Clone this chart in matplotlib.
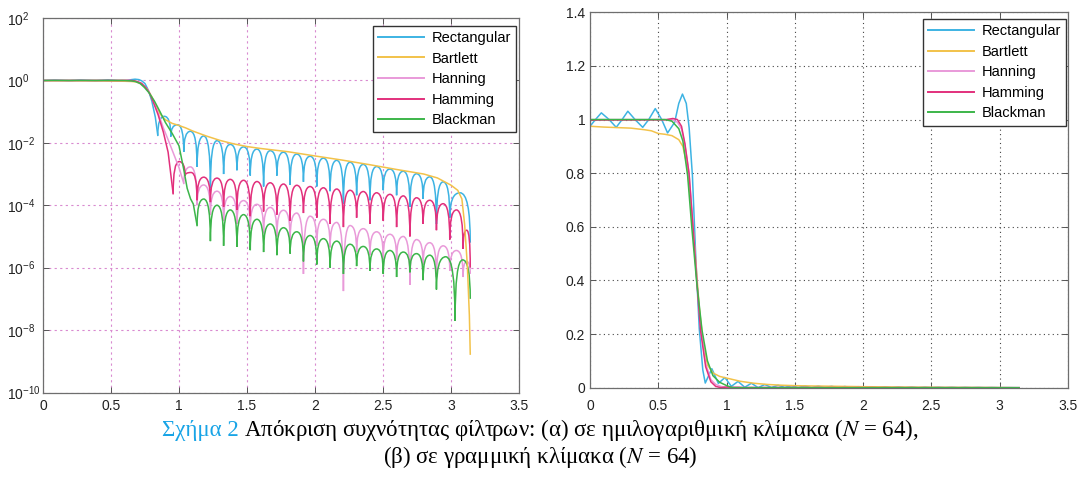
import matplotlib
matplotlib.use("Agg")
import matplotlib.pyplot as plt
import matplotlib.ticker as mticker
from matplotlib.path import Path
from matplotlib.patches import PathPatch
from matplotlib.lines import Line2D

plt.rcParams["font.family"] = ["Liberation Sans", "DejaVu Sans"]
plt.rcParams["mathtext.default"] = "regular"

names = ["Rectangular", "Bartlett", "Hanning", "Hamming", "Blackman"]
colors = ["#3db3e3", "#f2c24a", "#e99ad9", "#e2307c", "#3cb54a"]

# pass band + transition, linear magnitude
rect_x = [0, 0.04, 0.083, 0.14, 0.192, 0.235, 0.277, 0.33, 0.386, 0.43, 0.478,
          0.525, 0.568, 0.62, 0.65, 0.677, 0.705, 0.726, 0.75, 0.775, 0.80, 0.826]
rect_y = [0.975, 1.0, 1.025, 1.0, 0.971, 1.0, 1.031, 1.0, 0.971, 1.0, 1.041,
          1.0, 0.95, 0.99, 1.06, 1.095, 1.06, 0.969, 0.79, 0.48, 0.22, 0.066]

hann_x = [0, 0.55, 0.6, 0.64, 0.67, 0.695, 0.725, 0.758, 0.783, 0.809, 0.847,
          0.885, 0.92, 0.96, 1.0]
hann_y = [1.0, 1.0, 1.0, 0.99, 0.965, 0.905, 0.8, 0.58, 0.4, 0.23, 0.09,
          0.03, 0.0126, 0.0045, 0.0016]

hamm_x = [0, 0.55, 0.607, 0.64, 0.67, 0.695, 0.725, 0.758, 0.783, 0.809, 0.847,
          0.885, 0.92]
hamm_y = [0.998, 0.999, 1.004, 1.0, 0.975, 0.91, 0.80, 0.575, 0.39, 0.215, 0.078,
          0.022, 0.005]

black_x = [0, 0.55, 0.6, 0.65, 0.68, 0.715, 0.745, 0.78, 0.82, 0.86, 0.9, 0.95,
           1.0, 1.035, 1.06, 1.085, 1.105]
black_y = [1.0, 1.0, 0.994, 0.966, 0.92, 0.79, 0.6, 0.4, 0.215, 0.1, 0.045, 0.02,
           0.008, 1.4e-3, 3.5e-4, 1.6e-4, 1.1e-4]

# Bartlett has no nulls, the whole curve is one list
bart_x = [0, 0.1, 0.2, 0.3, 0.4, 0.45, 0.5, 0.55, 0.6, 0.65, 0.68, 0.71, 0.74,
          0.77, 0.80, 0.83, 0.86, 0.90, 0.95, 1.0, 1.05, 1.1, 1.2, 1.3, 1.4, 1.5,
          1.6, 1.8, 2.0, 2.2, 2.4, 2.6, 2.8, 2.9, 3.0, 3.05, 3.08, 3.1, 3.12,
          3.135, 3.1416]
bart_y = [0.975, 0.972, 0.97, 0.968, 0.962, 0.958, 0.948, 0.945, 0.94, 0.925,
          0.9, 0.83, 0.68, 0.5, 0.3, 0.16, 0.085, 0.055, 0.042, 0.036, 0.03,
          0.024, 0.0166, 0.012, 0.0093, 0.0076, 0.0066, 0.0052, 0.0038, 0.0028,
          0.002, 0.0014, 0.001, 0.00075, 0.00044, 0.0003, 0.00016, 2.5e-5,
          1.2e-6, 3e-8, 1.7e-9]

# stop band: null frequencies, log10 of the nulls and of the lobe peaks between them
rect_null_x = [0.844, 0.940, 1.035, 1.133, 1.231, 1.328, 1.426, 1.524, 1.622,
               1.720, 1.817, 1.915, 2.013, 2.111, 2.209, 2.306, 2.404, 2.502,
               2.600, 2.698, 2.795, 2.893, 2.991, 3.1416]
rect_null_lg = [-1.76, -1.8, -2.29, -2.77, -3.45, -3.0, -2.88, -3.05, -3.4, -3.05,
                -3.35, -3.25, -3.4, -3.55, -3.95, -3.68, -3.84, -3.52, -3.68,
                -4.05, -3.8, -4.6, -4.4, -5.2]
rect_peak_lg = [-1.15, -1.42, -1.63, -1.78, -1.93, -2.05, -2.13, -2.2, -2.25,
                -2.3, -2.36, -2.43, -2.49, -2.56, -2.62, -2.69, -2.76, -2.84,
                -2.91, -2.99, -3.09, -3.25, -3.6]

hann_null_x = [1.035, 1.133, 1.231, 1.328, 1.426, 1.524, 1.622, 1.720, 1.817,
               1.915, 2.013, 2.111, 2.209, 2.306, 2.404, 2.502, 2.600, 2.698,
               2.795, 2.893, 2.991, 3.089, 3.1416]
hann_null_lg = [-3.3, -4.0, -4.3, -4.5, -4.6, -4.75, -4.9, -5.0, -5.1, -6.2, -5.3,
                -5.35, -6.75, -5.5, -5.6, -5.7, -5.75, -6.55, -5.9, -6.3, -6.1,
                -6.3, -6.2]
hann_peak_lg = [-2.77, -3.35, -3.55, -3.72, -3.85, -3.97, -4.07, -4.16, -4.25,
                -4.35, -4.45, -4.55, -4.65, -4.75, -4.85, -4.93, -5.0, -5.1,
                -5.2, -5.3, -5.45, -5.8]

hamm_null_x = [0.957, 1.045, 1.133, 1.231, 1.328, 1.426, 1.524, 1.622, 1.720,
               1.817, 1.915, 2.013, 2.111, 2.209, 2.306, 2.404, 2.502, 2.600,
               2.698, 2.795, 2.893, 2.991, 3.089, 3.1416]
hamm_null_lg = [-3.63, -3.05, -3.84, -3.9, -4.05, -4.15, -4.35, -4.2, -4.3, -4.5,
                -4.25, -4.4, -4.6, -4.7, -4.4, -4.6, -4.5, -4.7, -5.0, -4.6, -4.8,
                -5.1, -5.4, -6.0]
hamm_peak_lg = [-2.6, -2.95, -3.1, -3.13, -3.17, -3.2, -3.24, -3.28, -3.32, -3.36,
                -3.4, -3.44, -3.48, -3.52, -3.56, -3.6, -3.65, -3.7, -3.76, -3.84,
                -3.95, -4.15, -4.8]

black_null_x = [1.133, 1.231, 1.328, 1.426, 1.524, 1.622, 1.720, 1.817, 1.915,
                2.013, 2.111, 2.209, 2.306, 2.404, 2.502, 2.600, 2.698, 2.795,
                2.893, 3.03, 3.1416]
black_null_lg = [-4.65, -5.15, -5.3, -5.33, -5.44, -5.5, -5.6, -5.55, -5.8, -5.9,
                 -6.0, -6.2, -5.95, -6.1, -6.2, -6.3, -6.15, -6.4, -6.7, -7.7, -7.0]
black_peak_lg = [-3.8, -4.0, -4.15, -4.3, -4.45, -4.6, -4.72, -4.85, -4.97, -5.07,
                 -5.15, -5.25, -5.32, -5.4, -5.45, -5.5, -5.55, -5.6, -5.65, -5.75]


def lobe_path(nx, nlg, plg):
    # one arch per lobe: vertical at the nulls, flat at the top
    verts = [(nx[0], 10 ** nlg[0])]
    codes = [Path.MOVETO]
    for i, p in enumerate(plg):
        xm = (nx[i] + nx[i + 1]) / 2
        top = 10 ** p
        verts += [(nx[i], top), (xm, top), (nx[i + 1], top), (nx[i + 1], 10 ** nlg[i + 1])]
        codes += [Path.CURVE3] * 4
    return Path(verts, codes)


def lobe_line(nx, nlg, plg):
    xs, ys = [nx[0]], [10 ** nlg[0]]
    for i, p in enumerate(plg):
        xs += [(nx[i] + nx[i + 1]) / 2, nx[i + 1]]
        ys += [10 ** p, 10 ** nlg[i + 1]]
    return xs, ys


windowed = [
    (rect_x, rect_y, rect_null_x, rect_null_lg, rect_peak_lg, colors[0]),
    None,
    (hann_x, hann_y, hann_null_x, hann_null_lg, hann_peak_lg, colors[2]),
    (hamm_x, hamm_y, hamm_null_x, hamm_null_lg, hamm_peak_lg, colors[3]),
    (black_x, black_y, black_null_x, black_null_lg, black_peak_lg, colors[4]),
]

W, H = 1081, 480
fig = plt.figure(figsize=(W / 100, H / 100), dpi=100)
ax1 = fig.add_axes([43 / W, 1 - 392.5 / H, 476 / W, 374.5 / H])
ax2 = fig.add_axes([590 / W, 1 - 387.7 / H, 478 / W, 375.4 / H])

lw = 1.1
for item in windowed:
    if item is None:
        ax1.plot(bart_x, bart_y, color=colors[1], lw=lw)
        ax2.plot(bart_x, bart_y, color=colors[1], lw=lw)
        continue
    tx, ty, nx, nlg, plg, c = item
    # log panel
    ax1.plot(tx + [nx[0]], ty + [10 ** nlg[0]], color=c, lw=lw)
    ax1.add_patch(PathPatch(lobe_path(nx, nlg, plg), fill=False, edgecolor=c, lw=lw))
    # linear panel
    lx, ly = lobe_line(nx, nlg, plg)
    ax2.plot(tx + lx, ty + ly, color=c, lw=lw)

ax1.set_yscale("log")
ax1.set_xlim(0, 3.5)
ax1.set_ylim(1e-10, 1e2)
ax1.yaxis.set_major_locator(mticker.LogLocator(base=100, numticks=10))
ax1.yaxis.set_minor_locator(mticker.NullLocator())
ax1.grid(True, color="#d98ad0", linestyle=(0, (2, 3)), lw=0.8)

ax2.set_xlim(0, 3.5)
ax2.set_ylim(0, 1.4)
ax2.set_yticks([0, 0.2, 0.4, 0.6, 0.8, 1.0, 1.2, 1.4])
ax2.grid(True, color="#444444", linestyle=(0, (1, 3)), lw=0.8)

fmt = mticker.FuncFormatter(lambda v, p: "%g" % v)
for ax in (ax1, ax2):
    ax.set_xticks([0, 0.5, 1, 1.5, 2, 2.5, 3, 3.5])
    ax.xaxis.set_major_formatter(fmt)
    ax.tick_params(direction="in", top=True, right=True, labelsize=10,
                   length=4, width=0.7, color="#555555", labelcolor="#222222")
    for s in ax.spines.values():
        s.set_color("#6e6e6e")
        s.set_linewidth(0.9)
    ax.set_axisbelow(True)
    handles = [Line2D([], [], color=c, lw=1.4) for c in colors]
    ax.legend(handles, names, loc="upper right", fontsize=10.5, frameon=True,
              fancybox=False, edgecolor="#333333", framealpha=1,
              handlelength=3.2, handletextpad=0.5, labelspacing=0.45,
              borderaxespad=0, borderpad=0.35,
              bbox_to_anchor=(0.994, 0.979) if ax is ax1 else (0.996, 0.982))

ax1.tick_params(axis="x", pad=5)
ax2.tick_params(axis="x", pad=8)
ax2.yaxis.set_major_formatter(fmt)
ax1.tick_params(axis="y", pad=26)
for lbl in ax1.get_yticklabels():
    lbl.set_horizontalalignment("left")

# caption: blue figure number, then the description, two centred lines
plt.rcParams["mathtext.fontset"] = "stix"
cap = dict(family=["Liberation Serif", "DejaVu Serif"], size=16.5, va="baseline")
y1, y2 = 1 - 436 / H, 1 - 463 / H
t_num = fig.text(0, y1, "Σχήμα 2", color="#18a4e6", **cap)
t_rest = fig.text(0, y1, "Απόκριση συχνότητας φίλτρων: (α) σε ημιλογαριθμική "
                  r"κλίμακα ($\mathit{N}$ = 64),", color="black", **cap)
fig.text(0.5, y2, r"(β) σε γραμμική κλίμακα ($\mathit{N}$ = 64)", ha="center",
         color="black", **cap)
fig.canvas.draw()
r = fig.canvas.get_renderer()
wn = t_num.get_window_extent(r).width
wr = t_rest.get_window_extent(r).width
gap = 5
x0 = (W - (wn + gap + wr)) / 2
t_num.set_x(x0 / W)
t_rest.set_x((x0 + wn + gap) / W)

fig.savefig("out.png", dpi=100)
